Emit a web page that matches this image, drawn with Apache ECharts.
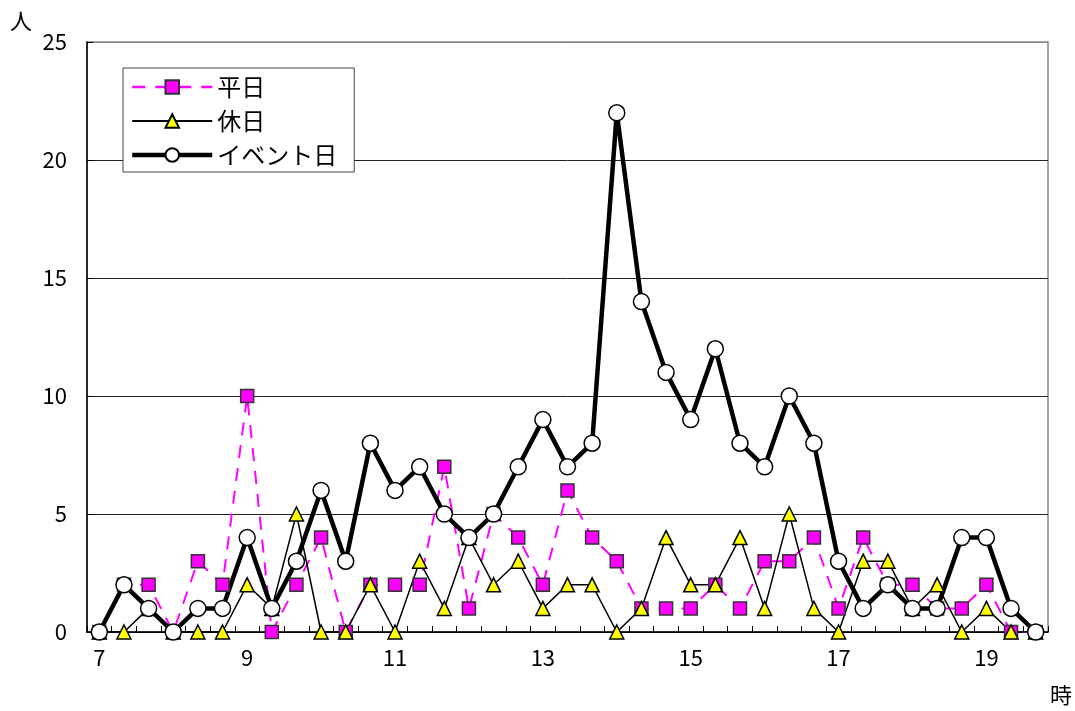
<!DOCTYPE html>
<html>
<head>
<meta charset="utf-8">
<script src="https://cdn.jsdelivr.net/npm/echarts@6/dist/echarts.min.js"></script>
<style>
html,body{margin:0;padding:0;background:#fff;}
#chart{width:1075px;height:711px;}
</style>
</head>
<body>
<div id="chart"></div>
<script>
const times = [
  '7:00','7:20','7:40','8:00','8:20','8:40','9:00','9:20','9:40','10:00','10:20','10:40',
  '11:00','11:20','11:40','12:00','12:20','12:40','13:00','13:20','13:40','14:00','14:20','14:40',
  '15:00','15:20','15:40','16:00','16:20','16:40','17:00','17:20','17:40','18:00','18:20','18:40',
  '19:00','19:20','19:40'
];
const weekday = [0,2,2,0,3,2,10,0,2,4,0,2,2,2,7,1,5,4,2,6,4,3,1,1,1,2,1,3,3,4,1,4,2,2,1,1,2,0,0];
const holiday = [0,0,1,0,0,0,2,1,5,0,0,2,0,3,1,4,2,3,1,2,2,0,1,4,2,2,4,1,5,1,0,3,3,1,2,0,1,0,0];
const eventDay = [0,2,1,0,1,1,4,1,3,6,3,8,6,7,5,4,5,7,9,7,8,22,14,11,9,12,8,7,10,8,3,1,2,1,1,4,4,1,0];
const seriesNames = ['平日','休日','イベント日'];
const yUnit = '人';
const xUnit = '時';

const FONT = '"Noto Sans CJK JP", "Noto Sans", sans-serif';
const chart = echarts.init(document.getElementById('chart'), null, {renderer:'canvas'});
chart.setOption({
  animation: false,
  backgroundColor: '#fff',
  textStyle: {fontFamily: FONT, color: '#000'},
  grid: {left: 87, right: 27, top: 42, bottom: 79, show: true, borderColor: '#888', borderWidth: 1.5, containLabel: false},
  legend: {
    orient: 'vertical',
    left: 123, top: 68,
    padding: [7, 17, 5, 7],
    itemGap: 10,
    itemWidth: 80,
    itemHeight: 17,
    borderColor: '#444',
    borderWidth: 1,
    backgroundColor: '#fff',
    data: [
      {name: seriesNames[0], lineStyle: {width: 2.5, type: [13, 10]}},
      {name: seriesNames[1], lineStyle: {width: 1.8}},
      {name: seriesNames[2], lineStyle: {width: 4.5}}
    ],
    textStyle: {fontSize: 24, lineHeight: 24, color: '#000', fontFamily: FONT}
  },
  graphic: [
    {type: 'text', left: 10, top: 10, style: {text: yUnit, fontSize: 22, fill: '#000', fontFamily: FONT}},
    {type: 'text', left: 1050, top: 684, style: {text: xUnit, fontSize: 22, fill: '#000', fontFamily: FONT}}
  ],
  xAxis: {
    type: 'category',
    data: times,
    boundaryGap: true,
    axisLine: {lineStyle: {color: '#000', width: 1.5}},
    axisTick: {show: true, inside: true, interval: 0, length: 6, lineStyle: {color: '#000', width: 1}},
    axisLabel: {interval: 5, margin: 15, fontSize: 22, color: '#000', fontFamily: FONT,
      formatter: v => v.split(':')[0]},
    splitLine: {show: false}
  },
  yAxis: {
    type: 'value',
    min: 0, max: 25, interval: 5,
    axisLine: {show: true, lineStyle: {color: '#000', width: 1.5}},
    axisTick: {show: true, inside: true, length: 6, lineStyle: {color: '#000'}},
    axisLabel: {margin: 20, fontSize: 22, color: '#000', fontFamily: FONT},
    splitLine: {show: true, lineStyle: {color: ['#000','#222','#222','#222','#222','#888'], width: 1}}
  },
  series: [
    {
      name: seriesNames[0], type: 'line', data: weekday,
      symbol: 'rect', symbolSize: 13,
      lineStyle: {color: '#ff00ff', width: 2, type: [13, 10]},
      itemStyle: {color: '#ff00ff', borderColor: '#333', borderWidth: 1.5}
    },
    {
      name: seriesNames[1], type: 'line', data: holiday,
      symbol: 'triangle', symbolSize: 14,
      lineStyle: {color: '#000', width: 1.5},
      itemStyle: {color: '#ffff00', borderColor: '#000', borderWidth: 1.5}
    },
    {
      name: seriesNames[2], type: 'line', data: eventDay,
      symbol: 'circle', symbolSize: 16,
      lineStyle: {color: '#000', width: 4.5},
      itemStyle: {color: '#fff', borderColor: '#000', borderWidth: 1.5}
    }
  ]
});
</script>
</body>
</html>
